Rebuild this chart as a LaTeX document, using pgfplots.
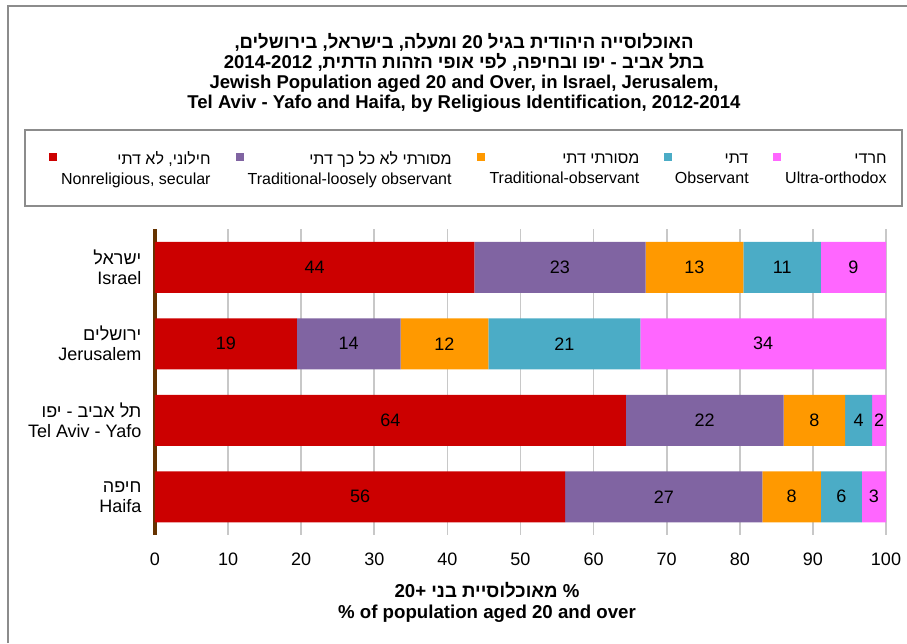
\documentclass[border=0pt]{standalone}
\usepackage{pgfplots}
\pgfplotsset{compat=1.18}
\usepackage{pgfplotstable}
\usepackage{fontspec}
\setmainfont{Liberation Sans}
\newfontfamily\heb[Script=Hebrew]{Liberation Sans}
\TeXXeTstate=1

\definecolor{cRed}{HTML}{CC0000}
\definecolor{cPurple}{HTML}{8064A2}
\definecolor{cOrange}{HTML}{FF9900}
\definecolor{cTeal}{HTML}{4BACC6}
\definecolor{cPink}{HTML}{FF66FF}
\definecolor{gridgray}{HTML}{C8C8C8}
\definecolor{axisbrown}{HTML}{663300}
\definecolor{framegray}{HTML}{8C8C8C}

% shares per area, in %, with the printed (rounded) labels
\pgfplotstableread{
y  a     b     c     d     e     la  lb  lc  ld  le
0  43.7  23.4  13.4  10.6  8.9   44  23  13  11  9
1  19.4  14.2  12.0  20.8  33.6  19  14  12  21  34
2  64.4  21.6  8.4   3.7   1.9   64  22  8   4   2
3  56.1  27.0  8.0   5.6   3.3   56  27  8   6   3
}\shares

\begin{document}
\begin{tikzpicture}
\begin{axis}[
    at={(0,0)}, anchor=south west,
    scale only axis,
    width=548.25pt, height=229.5pt,
    xbar stacked,
    bar width=38.25pt,
    xmin=0, xmax=100,
    ymin=-0.5, ymax=3.5,
    y dir=reverse,
    enlargelimits=false,
    xtick={0,10,...,100},
    ytick={0,1,2,3},
    yticklabels={
        {{\heb\beginR ישראל\endR}\\Israel},
        {{\heb\beginR ירושלים\endR}\\Jerusalem},
        {{\heb\beginR תל אביב - יפו\endR}\\Tel Aviv - Yafo},
        {{\heb\beginR חיפה\endR}\\Haifa}
    },
    major tick length=0pt,
    xmajorgrids,
    grid style={draw=gridgray, line width=1.2pt},
    axis x line*=bottom,
    axis y line*=left,
    x axis line style={draw=none},
    y axis line style={draw=axisbrown, line width=3pt},
    /pgf/number format/assume math mode=true,
    xticklabel style={font=\fontsize{13.5}{16}\selectfont, inner sep=0pt, yshift=-13.5pt},
    yticklabel style={font=\fontsize{13.5}{15}\selectfont, align=right, inner sep=0pt, xshift=-10pt},
    nodes near coords,
    point meta=explicit symbolic,
    nodes near coords style={anchor=center, font=\fontsize{13.5}{16}\selectfont, text=black},
    legend columns=5,
    legend style={
        draw=none, fill=none, inner sep=0pt,
        at={(axis description cs:-0.145,1.2124)}, anchor=west,
        font=\fontsize{12}{15}\selectfont,
        nodes={inner sep=0pt, anchor=west},
        /tikz/every odd column/.append style={column sep=2pt},
        /tikz/every even column/.append style={column sep=18.75pt},
    },
    legend image code/.code={\fill[#1] (0pt,2.3pt) rectangle (6pt,8.3pt);},
]
\addplot[fill=cRed, draw=none] table[x=a, y=y, meta=la] {\shares};
\addlegendentry{\parbox{113pt}{\raggedleft{\heb\beginR חילוני, לא דתי\endR}\\Nonreligious, secular}}
\addplot[fill=cPurple, draw=none] table[x=b, y=y, meta=lb] {\shares};
\addlegendentry{\parbox{154pt}{\raggedleft{\heb\beginR מסורתי לא כל כך דתי\endR}\\Traditional-loosely observant}}
\addplot[fill=cOrange, draw=none] table[x=c, y=y, meta=lc] {\shares};
\addlegendentry{\parbox{114pt}{\raggedleft{\heb\beginR מסורתי דתי\endR}\\Traditional-observant}}
\addplot[fill=cTeal, draw=none] table[x=d, y=y, meta=ld] {\shares};
\addlegendentry{\parbox{55pt}{\raggedleft{\heb\beginR דתי\endR}\\Observant}}
\addplot[fill=cPink, draw=none] table[x=e, y=y, meta=le] {\shares};
\addlegendentry{\parbox{77pt}{\raggedleft{\heb\beginR חרדי\endR}\\Ultra-orthodox}}
\end{axis}
\begin{scope}[x=0.75pt, y=-0.75pt, shift={(-155,-535)}]
  \draw[framegray, line width=1.5pt] (8,643) -- (8,6.5) -- (907,6.5);
  \draw[framegray, line width=1.5pt] (25,130) rectangle (902,206);
  \node[align=center, font=\fontsize{13.9}{15}\selectfont\bfseries] at (464,73)
    {{\heb\beginR האוכלוסייה היהודית בגיל \beginL 20\endL{} ומעלה, בישראל, בירושלים,\endR}\\
     {\heb\beginR בתל אביב - יפו ובחיפה, לפי אופי הזהות הדתית, \beginL 2014-2012\endL{}\endR}\\
     Jewish Population aged 20 and Over, in Israel, Jerusalem,\\
     Tel Aviv - Yafo and Haifa, by Religious Identification, 2012-2014};
  \node[align=center, font=\fontsize{14}{15.75}\selectfont\bfseries] at (487,602)
    {{\heb\beginR \% מאוכלוסיית בני \beginL +20\endL{}\endR}\\
     \% of population aged 20 and over};
  \pgfresetboundingbox
  \path[use as bounding box] (0,0) rectangle (907,643);
\end{scope}
\end{tikzpicture}
\end{document}
